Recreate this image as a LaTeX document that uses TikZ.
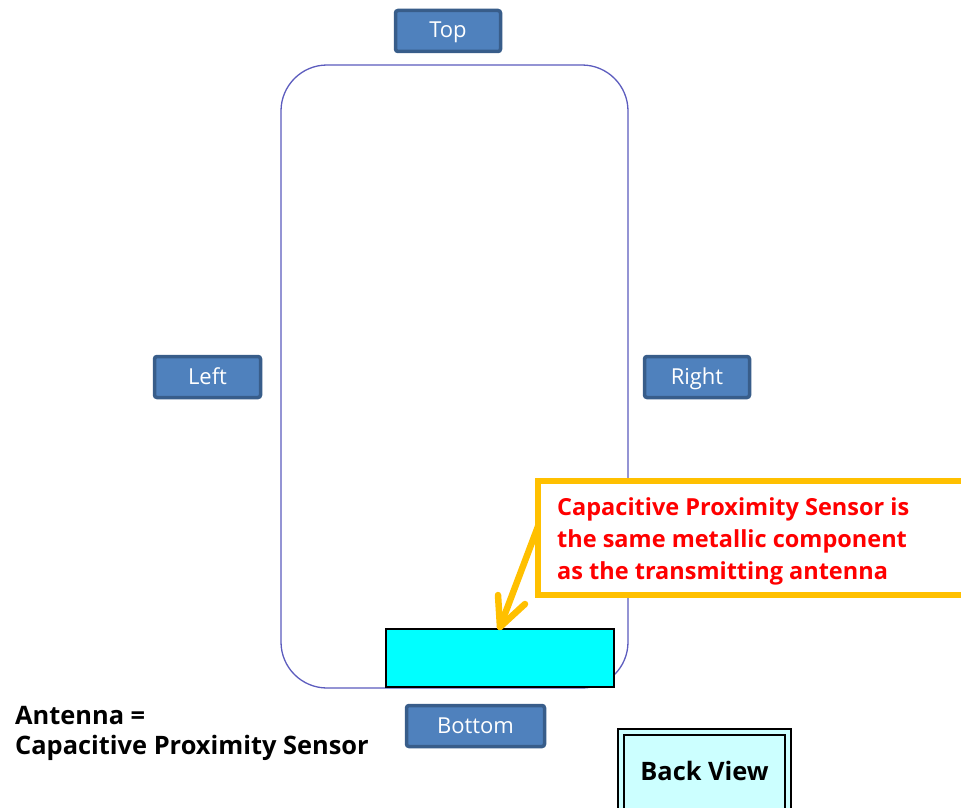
\documentclass[tikz,border=0pt]{standalone}
\usepackage{fontspec}
\setmainfont{Open Sans}
\usetikzlibrary{positioning}
\definecolor{btnfill}{HTML}{4F81BD}
\definecolor{btnedge}{HTML}{385D8A}
\definecolor{phoneline}{HTML}{5C5CBE}
\definecolor{callout}{HTML}{FFC000}
\definecolor{lightcyan}{HTML}{CCFFFF}
\definecolor{aqua}{HTML}{00FFFF}
\tikzset{
  btn/.style={draw=btnedge, fill=btnfill, line width=3.5pt, rounded corners=2.5pt,
    text=white, font=\fontsize{22}{24}\selectfont, minimum height=41pt, inner sep=0pt,
    text height=16pt, text depth=2pt},
  redtext/.style={text=red, font=\bfseries\fontsize{23.5}{32}\selectfont, align=left, inner sep=0pt},
  blacktext/.style={text=black, font=\bfseries\fontsize{25.4}{30}\selectfont, align=left, inner sep=0pt},
}
\begin{document}
\begin{tikzpicture}[x=1pt,y=-1pt]
\useasboundingbox (0,0) rectangle (961,808);
\clip (0,0) rectangle (961,808);
\fill[white] (0,0) rectangle (961,808);
% phone outline
\draw[phoneline, line width=1.3pt, rounded corners=46pt] (281,65) rectangle (628,688);
% buttons
\node[btn, minimum width=105pt] (top) at (448,31) {Top};
\node[btn, minimum width=106pt] (left) at (207.5,377) {Left};
\node[btn, minimum width=105pt] (right) at (697,377) {Right};
\node[btn, minimum width=138pt] (bottom) at (475.5,726) {Bottom};
% antenna block
\draw[black, fill=aqua, line width=1.8pt] (386,629) rectangle (614,687);
\coordinate (antennaTop) at (500,627);
% callout arrow
\coordinate (arrowStart) at (548,500);
\coordinate (armL) at (498,595);
\coordinate (armR) at (525,604);
\draw[callout, line width=6.5pt, line cap=round] (arrowStart) -- (antennaTop);
\draw[callout, line width=6.5pt, line cap=round, line join=round] (armL) -- (antennaTop) -- (armR);
% callout box
\draw[callout, fill=white, line width=6pt] (538,481) rectangle (1000,595);
\node[redtext, anchor=north west] (note) at (557,497) {Capacitive Proximity Sensor is\\the same metallic component\\as the transmitting antenna};
% left label
\node[blacktext, anchor=north west] (label) at (15,706.5) {Antenna =\\Capacitive Proximity Sensor};
% back view
\draw[black, fill=lightcyan, line width=2.5pt] (618,729) rectangle (791,830);
\draw[black, line width=1.8pt] (624,735) rectangle (785,830);
\node[blacktext, anchor=center] (back) at (704.5,771) {Back View};
\end{tikzpicture}
\end{document}
